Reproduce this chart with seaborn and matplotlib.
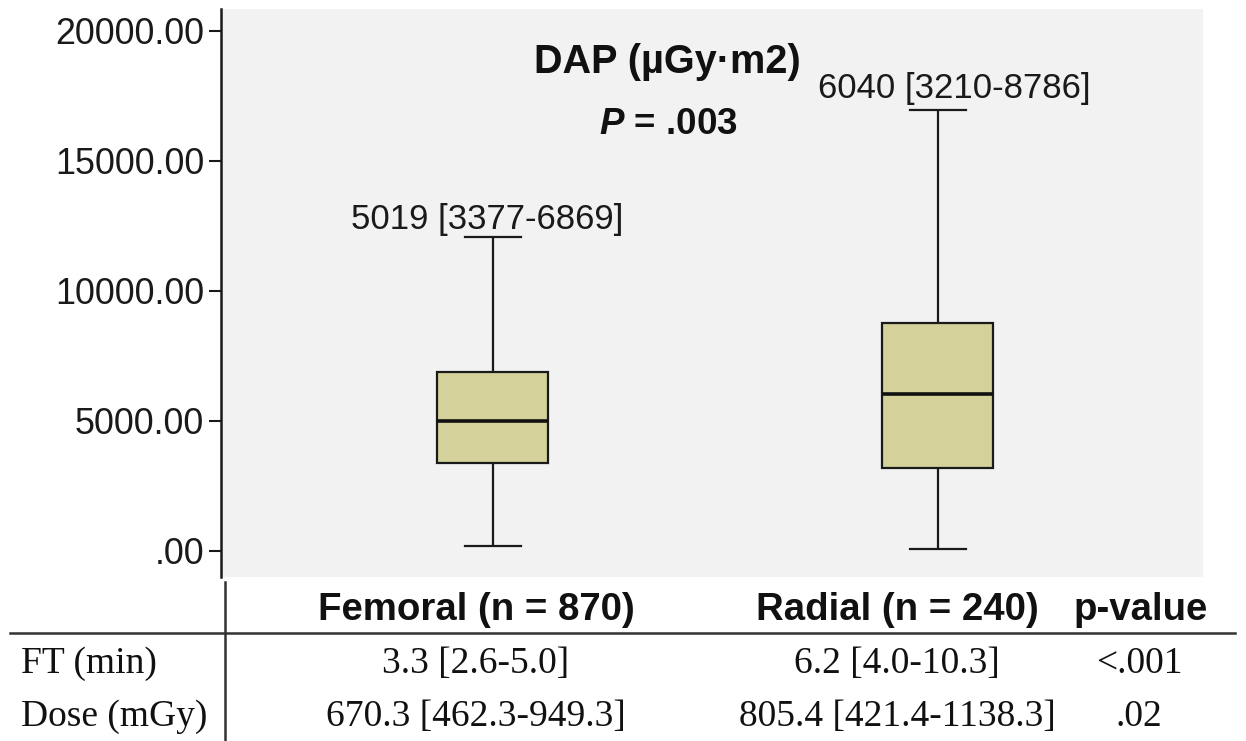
import matplotlib
matplotlib.use("Agg")
import matplotlib.pyplot as plt
from matplotlib.lines import Line2D
import seaborn as sns
import pandas as pd

# ---- data ----
groups = ["Femoral", "Radial"]
# five-number summaries: [min, Q1, median, Q3, max]
femoral_stats = [190, 3377, 5019, 6869, 12070]
radial_stats = [60, 3210, 6040, 8786, 16950]
box_labels = ["5019 [3377-6869]", "6040 [3210-8786]"]
yticks = [0, 5000, 10000, 15000, 20000]
ytick_labels = [".00", "5000.00", "10000.00", "15000.00", "20000.00"]
title_text = "DAP (µGy·m2)"
pvalue_text = "$P$ = .003"

table_header = ["Femoral (n = 870)", "Radial (n = 240)", "p-value"]
row_labels = ["FT (min)", "Dose (mGy)"]
femoral_col = ["3.3 [2.6-5.0]", "670.3 [462.3-949.3]"]
radial_col = ["6.2 [4.0-10.3]", "805.4 [421.4-1138.3]"]
pvalue_col = ["<.001", ".02"]

df = pd.DataFrame({
    "group": [groups[0]] * len(femoral_stats) + [groups[1]] * len(radial_stats),
    "value": femoral_stats + radial_stats,
})

plt.rcParams["mathtext.fontset"] = "custom"
plt.rcParams["mathtext.it"] = "Liberation Sans:italic:bold"
plt.rcParams["mathtext.rm"] = "Liberation Sans:bold"
SANS = "Liberation Sans"
SERIF = "Liberation Serif"

W, H = 1246, 741
fig = plt.figure(figsize=(W / 100, H / 100), dpi=100)
ax_left, ax_right, ax_top, ax_bot = 221, 1203, 9, 577
ax = fig.add_axes([ax_left / W, 1 - ax_bot / H, (ax_right - ax_left) / W, (ax_bot - ax_top) / H])
ax.set_facecolor("#f2f2f2")

sns.boxplot(data=df, x="group", y="value", order=groups, whis=(0, 100),
            width=0.25, color="#d4d19b", saturation=1, linecolor="#1a1a1a",
            linewidth=1.6, showfliers=False,
            medianprops=dict(linewidth=2.6, color="#111111"), ax=ax)

ax.set_xlim(-0.611, 1.596)
ax.set_ylim(-1000, 20846)
ax.set_xlabel("")
ax.set_ylabel("")
ax.set_xticks([])
ax.set_yticks(yticks)
ax.set_yticklabels(ytick_labels, fontsize=25.8, family=SANS, color="#1a1a1a")
ax.tick_params(axis="y", length=9, width=1.5, pad=3, color="#1a1a1a")
for s in ["top", "right", "bottom"]:
    ax.spines[s].set_visible(False)
ax.spines["left"].set_linewidth(1.8)
ax.spines["left"].set_color("#1a1a1a")

# labels above the upper whiskers
tops = [femoral_stats[-1], radial_stats[-1]]
offsets = [(-4, 12.5), (12, 16)]
for i, (lab, top) in enumerate(zip(box_labels, tops)):
    ax.annotate(lab, xy=(i, top), xytext=offsets[i], textcoords="offset points",
                ha="center", va="center", fontsize=25, family=SANS, color="#1a1a1a")

ax.text(0.455, 0.907, title_text, transform=ax.transAxes, ha="center", va="center",
        fontsize=28.5, fontweight="bold", family=SANS, color="#111111")
ax.text(0.455, 0.796, pvalue_text, transform=ax.transAxes, ha="center", va="center",
        fontsize=26.5, fontweight="bold", family=SANS, color="#111111")

# ---- table below ----
def fx(px):
    return px / W

def fy(py):
    return 1 - py / H

fig.add_artist(Line2D([fx(10), fx(1235)], [fy(633), fy(633)], color="#333333", linewidth=1.8))
fig.add_artist(Line2D([fx(225), fx(225)], [fy(582), fy(741)], color="#333333", linewidth=1.8))

col_x = [476, 897, 1141]
for x, t in zip(col_x, table_header):
    fig.text(fx(x), fy(610), t, ha="center", va="center", fontsize=27.6,
             fontweight="bold", family=SANS, color="#111111")

row_y = [664, 717]
for j, y in enumerate(row_y):
    fig.text(fx(21), fy(y), row_labels[j], ha="left", va="center", fontsize=27,
             family=SERIF, color="#111111")
    fig.text(fx(col_x[0]), fy(y), femoral_col[j], ha="center", va="center",
             fontsize=27, family=SERIF, color="#111111")
    fig.text(fx(col_x[1]), fy(y), radial_col[j], ha="center", va="center",
             fontsize=27, family=SERIF, color="#111111")
    fig.text(fx(1139), fy(y), pvalue_col[j], ha="center", va="center",
             fontsize=27, family=SERIF, color="#111111")

fig.savefig("out.png", dpi=100)
